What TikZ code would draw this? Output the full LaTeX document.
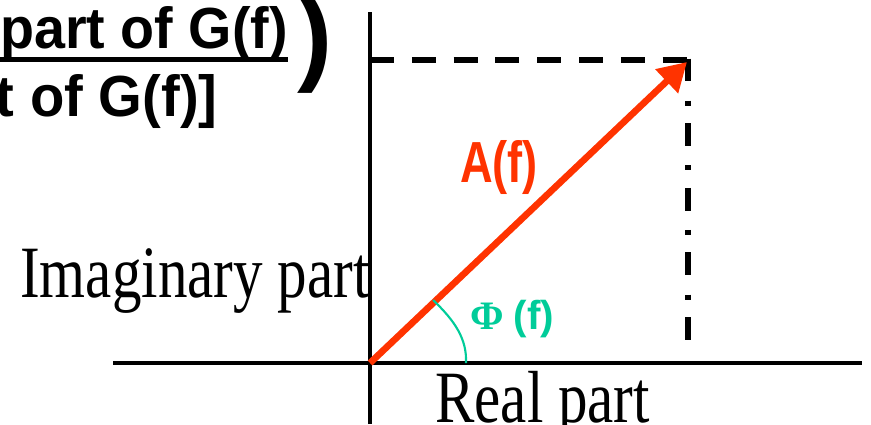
\documentclass[tikz,border=0pt]{standalone}
\usepackage{fontspec}
\setmainfont{Liberation Serif}
\setsansfont{Liberation Sans}
\usetikzlibrary{arrows.meta}
\definecolor{vecred}{HTML}{FF3300}
\definecolor{angteal}{HTML}{00CC99}
\tikzset{
  axis/.style={line width=2.2pt},
  serif label/.style={inner sep=0pt, xscale=0.8, font=\fontsize{42}{42}\selectfont},
  bold label/.style={inner sep=0pt, font=\sffamily\bfseries\fontsize{33}{33}\selectfont}
}
\begin{document}
\begin{tikzpicture}[x=0.02cm,y=0.02cm]
\useasboundingbox (0,0) rectangle (871,424);
\coordinate (O) at (370,61);
\coordinate (P) at (687,362);
% axes
\draw[axis] (113,61) -- (862,61);
\draw[axis] (370,0) -- (370,412);
% projections of the tip
\draw[line width=3.4pt, dash pattern=on 13.6pt off 10.2pt] (O |- 688,364) -- (691,364);
\draw[line width=3.2pt, dash pattern=on 13pt off 11pt on 2.8pt off 10pt] (688,365.5) -- (688,72);
% the vector and its angle
\draw[vecred, line width=3.8pt, -{Triangle[length=16pt,width=18pt]}] (O) -- (P);
\draw[angteal, line width=1.2pt] (433,124) .. controls (455,103) and (467,85) .. (466,61);
\node[bold label, vecred, xscale=0.78] (amp) at (499,256) {A(f)};
\node[bold label, angteal, font=\bfseries\fontsize{23}{23}\selectfont, anchor=base west] (phase) at (470,95)
  {\textbf{Φ} \sffamily(f)};
\node[serif label, anchor=base west] (imag) at (20,127) {Imaginary part};
\node[serif label, anchor=base west] (real) at (435,2) {Real part};
% the cut-off formula
\node[bold label, xscale=0.96, anchor=base east] (num) at (288,376) {part of G(f)};
\draw[line width=2.8pt] (0,364.5) -- (288,364.5);
\node[bold label, xscale=0.97, anchor=base east] (den) at (218,308) {t of G(f)]};
\node[inner sep=0pt, anchor=base, font=\sffamily\bfseries\fontsize{60}{60}\selectfont] (paren) at (315,353) {)};
\end{tikzpicture}
\end{document}
